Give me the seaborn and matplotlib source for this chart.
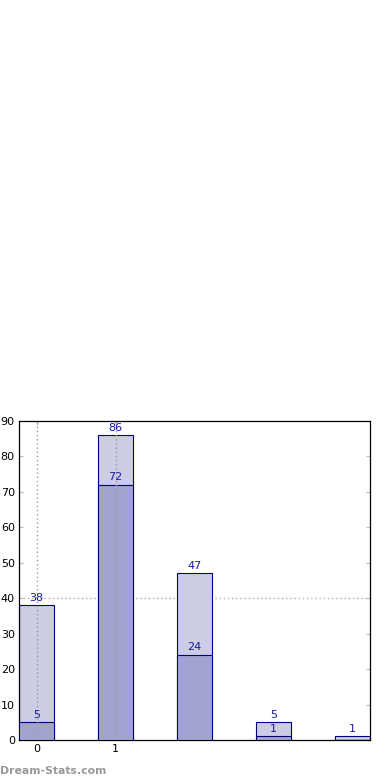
import matplotlib
matplotlib.use("Agg")
import matplotlib.pyplot as plt
import seaborn as sns
import pandas as pd

categories = ["0", "1", "2", "3", "4"]
total_values = [38, 86, 47, 5, 1]
part_values = [5, 72, 24, 1, 0]
tick_labels = ["0", "1"]

sns.set_style("white")
plt.rcParams['font.family'] = ['DejaVu Sans']

fig = plt.figure(figsize=(3.9, 7.8), dpi=100)
ax = fig.add_axes([19/390, 1 - 740/780, 351/390, 319/780])

df = pd.DataFrame({"cat": categories, "total": total_values, "part": part_values})

sns.barplot(data=df, x="cat", y="total", order=categories, color="#ccccE4",
            saturation=1, width=0.45, edgecolor="#000080", linewidth=0.8, ax=ax, zorder=2)
sns.barplot(data=df, x="cat", y="part", order=categories, color="#a3a3d0",
            saturation=1, width=0.45, edgecolor="#000080", linewidth=0.8, ax=ax, zorder=3)

lbl_color = "#1a1a9e"
for i, (t, p) in enumerate(zip(total_values, part_values)):
    ax.text(i, t + 0.7, str(t), ha="center", va="bottom", fontsize=8, color=lbl_color, zorder=5)
    if p > 0:
        ax.text(i, p + 0.7, str(p), ha="center", va="bottom", fontsize=8, color=lbl_color, zorder=5)

ax.set_xlim(-0.225, 4.225)
ax.set_ylim(0, 90)
ax.set_xticks([0, 1])
ax.set_xticklabels(tick_labels)
ax.set_yticks(range(0, 91, 10))
ax.set_xlabel("")
ax.set_ylabel("")

ax.axhline(40, color="#aaaaaa", linestyle=(0, (1, 2)), linewidth=1.0, zorder=1)
for xv in [0, 1]:
    ax.axvline(xv, color="#999999", linestyle=(0, (1, 2)), linewidth=1.0, zorder=4)

for s in ax.spines.values():
    s.set_visible(True)
    s.set_color("black")
    s.set_linewidth(0.9)

ax.tick_params(axis="both", which="both", direction="in", length=3, color="#bbbbbb",
               labelsize=8, labelcolor="black", top=True, right=True, bottom=True, left=True,
               pad=3)

fig.text(0.0, 1 - 771/780, "Dream-Stats.com", fontsize=7.8, color="#999999",
         fontweight="bold", ha="left", va="center")

fig.savefig("out.png", dpi=100)
